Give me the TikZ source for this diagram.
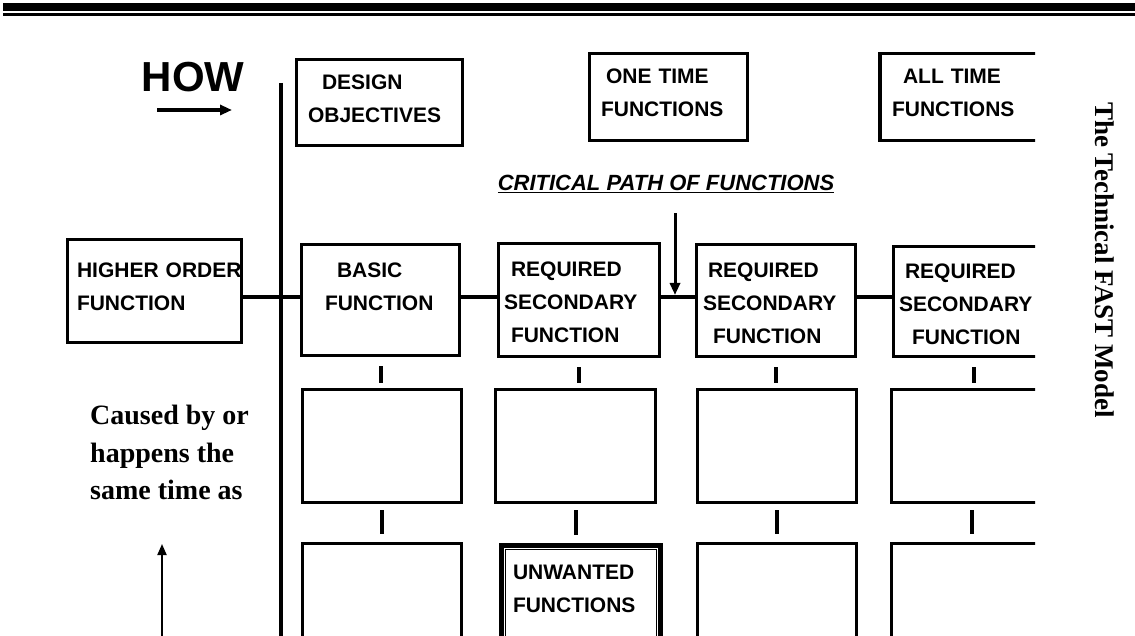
\documentclass[tikz,border=0pt]{standalone}
\usepackage{fontspec}
\setmainfont{Liberation Serif}
\setsansfont{Liberation Sans}
\usetikzlibrary{positioning, arrows.meta, calc}

\begin{document}
\begin{tikzpicture}[x=1pt, y=-1pt,
    fbox/.style={draw, line width=3.5pt, inner sep=0pt, align=left,
      font=\sffamily\bfseries\fontsize{21}{33}\selectfont},
    txt/.style={text height=15pt, text depth=#1},
    bar/.style={line width=3.5pt},
    tick/.style={line width=4pt},
    arr/.style={-{Triangle[length=12pt,width=10pt]}, line width=3.5pt}]

    \useasboundingbox (0,0) rectangle (1135,636);

    % Page rule
    \fill (3,3) rectangle (1135,11);
    \fill (3,13.5) rectangle (1135,16);

    % How
    \node[font=\sffamily\bfseries\fontsize{42}{42}\selectfont] (how) at (193,77) {HOW};
    \coordinate (howa) at (157,110);
    \coordinate (howb) at (232,110);
    \draw[arr] (howa) -- (howb);

    % Scope line
    \coordinate (vtop) at (281,83);
    \coordinate (vbot) at (281,636);
    \draw[bar] (vtop) -- (vbot);

    % Critical path
    \node[font=\sffamily\bfseries\itshape\fontsize{22}{22}\selectfont] (crit) at (666,184) {\underline{CRITICAL PATH OF FUNCTIONS}};

    \begin{scope}
    \clip (0,0) rectangle (1035,636);

    % Top boxes
    \node[fbox, txt=41pt, minimum width=166pt, minimum height=86pt, text width=143pt] (design) at (379.5,102.5) {\hspace*{14pt}DESIGN\\OBJECTIVES};
    \node[fbox, txt=42pt, minimum width=158pt, minimum height=87pt, text width=135pt] (onetime) at (668.5,97) {\hspace*{5pt}ONE TIME\\FUNCTIONS};
    \node[fbox, txt=42pt, minimum width=160pt, minimum height=87pt, text width=136pt] (alltime) at (960,97) {\hspace*{11pt}ALL TIME\\FUNCTIONS};

    % Critical path of functions
    \coordinate (cp) at (0,297);
    \node[fbox, txt=42pt, minimum width=174pt, minimum height=103pt, text width=155pt] (hof) at (154.5,291) {\mbox{HIGHER ORDER}\\FUNCTION};
    \node[fbox, txt=60pt, minimum width=158pt, minimum height=111pt, text width=111pt] (basic) at (380.5,300) {\hspace*{12pt}BASIC\\FUNCTION};
    \node[fbox, txt=62pt, minimum width=161pt, minimum height=113pt, text width=150pt] (req1) at (579,300) {\hspace*{7pt}REQUIRED\\SECONDARY\\\hspace*{7pt}FUNCTION};
    \node[fbox, txt=61pt, minimum width=159pt, minimum height=112pt, text width=146pt] (req2) at (776,300.5) {\hspace*{5pt}REQUIRED\\SECONDARY\\\hspace*{10pt}FUNCTION};
    \node[fbox, txt=60pt, minimum width=160pt, minimum height=110pt, text width=149pt] (req3) at (973.5,301.5) {\hspace*{6pt}REQUIRED\\SECONDARY\\\hspace*{13pt}FUNCTION};

    \draw[bar] (hof.east |- cp) -- (basic.west |- cp);
    \draw[bar] (basic.east |- cp) -- (req1.west |- cp);
    \draw[bar] (req1.east |- cp) -- (req2.west |- cp);
    \draw[bar] (req2.east |- cp) -- (req3.west |- cp);

    \coordinate (cpx) at (675,297);
    \draw[arr, line width=3pt, shorten <=17pt, shorten >=2pt] (crit.south -| cpx) -- (cpx);

    % Second row
    \node[fbox, minimum width=159pt, minimum height=113pt] (basic2) at (382,446) {};
    \node[fbox, minimum width=160pt, minimum height=113pt] (req12) at (575.5,446) {};
    \node[fbox, minimum width=159pt, minimum height=113pt] (req22) at (777,446) {};
    \node[fbox, minimum width=160pt, minimum height=113pt] (req32) at (971.5,446) {};

    % Third row
    \node[fbox, minimum width=159pt, minimum height=113pt] (basic3) at (382,600) {};
    \node[fbox, txt=60pt, line width=4.5pt, minimum width=159pt, minimum height=113pt, text width=136pt] (unwanted) at (581,602) {UNWANTED\\FUNCTIONS};
    \draw[line width=1.2pt] ($(unwanted.north west)+(6.5,6.5)$) rectangle ($(unwanted.south east)+(-6.5,-6.5)$);
    \node[fbox, minimum width=159pt, minimum height=113pt] (req23) at (777,600) {};
    \node[fbox, minimum width=160pt, minimum height=113pt] (req33) at (971.5,600) {};

    % Ticks
    \foreach \a/\b in {basic/basic2, req1/req12, req2/req22, req3/req32}
      \draw[tick, shorten <=9pt, shorten >=5pt] (\a.south) -- (\b.north -| \a.south);
    \foreach \a/\b in {basic2/basic3, req12/unwanted, req22/req23, req32/req33}
      \draw[tick, shorten <=6pt, shorten >=8pt] (\a.south) -- (\b.north -| \a.south);
    \end{scope}

    % When
    \node[font=\rmfamily\bfseries\fontsize{28}{37.5}\selectfont, align=left, anchor=north west, inner sep=0pt] (cause) at (90,405) {Caused by or\\happens the\\same time as};
    \coordinate (upa) at (162,636);
    \coordinate (upb) at (162,544);
    \draw[-{Triangle[length=11pt,width=9pt]}, line width=2pt] (upa) -- (upb);

    % Title
    \node[font=\rmfamily\bfseries\fontsize{27}{27}\selectfont, rotate=-90] (title) at (1104.5,260) {The Technical FAST Model};
\end{tikzpicture}
\end{document}
